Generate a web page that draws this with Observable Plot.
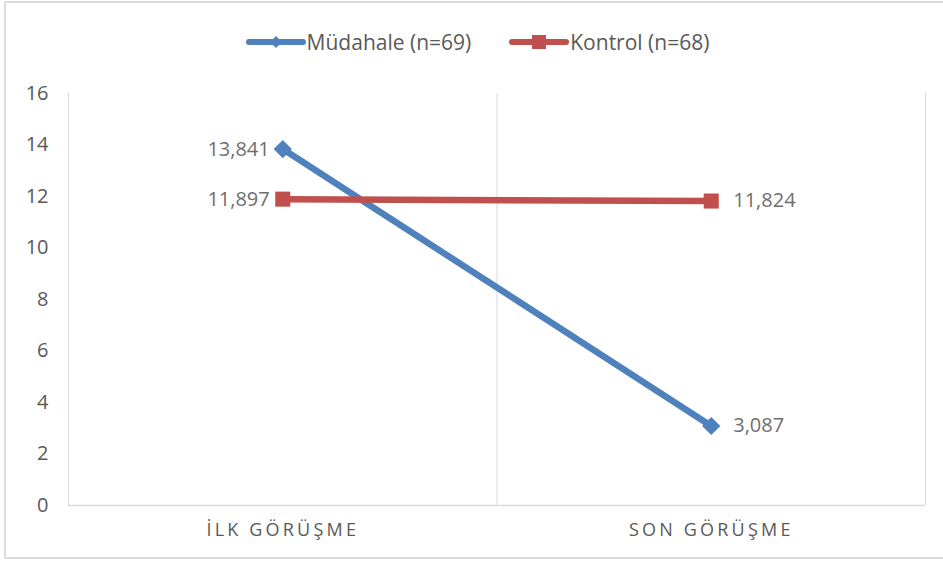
<!DOCTYPE html>
<html>
<head>
<meta charset="utf-8">
<script src="https://cdn.jsdelivr.net/npm/d3@7"></script>
<script src="https://cdn.jsdelivr.net/npm/@observablehq/plot@0.6"></script>
<style>
  html, body { margin: 0; padding: 0; background: #fff; }
  #wrap { position: relative; width: 943px; height: 562px; overflow: hidden; font-family: "Open Sans", sans-serif; }
  #frame { position: absolute; left: 4px; top: 1px; width: 960px; height: 558px; border: 2px solid #dcdcdc; box-sizing: border-box; }
  #legend { position: absolute; top: 28px; left: 6px; width: 943px; height: 28px; display: flex; justify-content: center; align-items: center; gap: 38px; color: #595959; font-size: 21px; }
  .item { display: flex; align-items: center; gap: 1px; }
  #chart { position: absolute; top: 70px; left: 0; }
</style>
</head>
<body>
<div id="wrap">
  <div id="frame"></div>
  <div id="legend"></div>
  <div id="chart"></div>
</div>
<script>
const categories = ["İLK GÖRÜŞME", "SON GÖRÜŞME"];
const seriesNames = ["Müdahale (n=69)", "Kontrol (n=68)"];
const mudahale = [13.841, 3.087];
const kontrol = [11.897, 11.824];
const yTicks = [0, 2, 4, 6, 8, 10, 12, 14, 16];
const colors = ["#4F81BD", "#C0504D"];
const symbols = ["diamond2", "square"];

const seriesValues = [mudahale, kontrol];
const data = [];
seriesValues.forEach((vals, s) => vals.forEach((v, i) => data.push({series: seriesNames[s], s, i, cat: categories[i], value: v})));
const fmt = v => v.toFixed(3).replace(".", ",");

// legend
const legend = d3.select("#legend");
seriesNames.forEach((name, s) => {
  const item = legend.append("div").attr("class", "item");
  const svg = item.append("svg").attr("width", 60).attr("height", 20);
  svg.append("line").attr("x1", 3).attr("x2", 57).attr("y1", 10).attr("y2", 10)
    .attr("stroke", colors[s]).attr("stroke-width", 6).attr("stroke-linecap", "round");
  if (symbols[s] === "square") {
    svg.append("rect").attr("x", 23).attr("y", 3).attr("width", 14).attr("height", 14).attr("fill", colors[s]);
  } else {
    svg.append("path").attr("d", "M30,4 L36,10 L30,16 L24,10 Z").attr("fill", colors[s]);
  }
  item.append("span").text(name);
});

const x = d => d.i + 0.5;
const marks = [
  Plot.ruleX(d3.range(categories.length + 1), { stroke: "#d9d9d9", strokeWidth: 1, y1: 0, y2: 16 }),
  Plot.ruleY([0], { stroke: "#d9d9d9", strokeWidth: 1.5 })
];
seriesNames.forEach((name, s) => {
  const sd = data.filter(d => d.s === s);
  marks.push(
    Plot.line(sd, { x, y: "value", stroke: colors[s], strokeWidth: 6.5 }),
    Plot.dot(sd, { x, y: "value", symbol: symbols[s], fill: colors[s], r: s === 0 ? 8.2 : 8.5 })
  );
});
marks.push(
  Plot.text(data.filter(d => d.i === 0), { x, y: "value", text: d => fmt(d.value), textAnchor: "end", dx: -13, fill: "#6e6e6e", fontSize: 20 }),
  Plot.text(data.filter(d => d.i === 1), { x, y: "value", text: d => fmt(d.value), textAnchor: "start", dx: 22, fill: "#6e6e6e", fontSize: 20 })
);

const chart = Plot.plot({
  width: 943,
  height: 492,
  marginTop: 23,
  marginBottom: 57,
  marginLeft: 68,
  marginRight: 18,
  style: { fontFamily: "Open Sans, sans-serif", fontSize: "20px", color: "#595959", background: "transparent", overflow: "visible" },
  x: {
    domain: [0, categories.length],
    ticks: categories.map((c, i) => i + 0.5),
    tickFormat: d => categories[Math.floor(d)],
    tickSize: 0,
    tickPadding: 18,
    label: null
  },
  y: { domain: [0, 16], ticks: yTicks, tickSize: 0, tickPadding: 20, label: null, tickFormat: d => String(d) },
  marks
});
document.getElementById("chart").appendChild(chart);
d3.select(chart).selectAll('g[aria-label^="x-axis"] text')
  .style("font-size", "18px").style("letter-spacing", "3.2px");
d3.select(chart).selectAll('g[aria-label^="x-axis"] text, g[aria-label^="y-axis"] text').attr("fill", "#595959");
</script>
</body>
</html>
